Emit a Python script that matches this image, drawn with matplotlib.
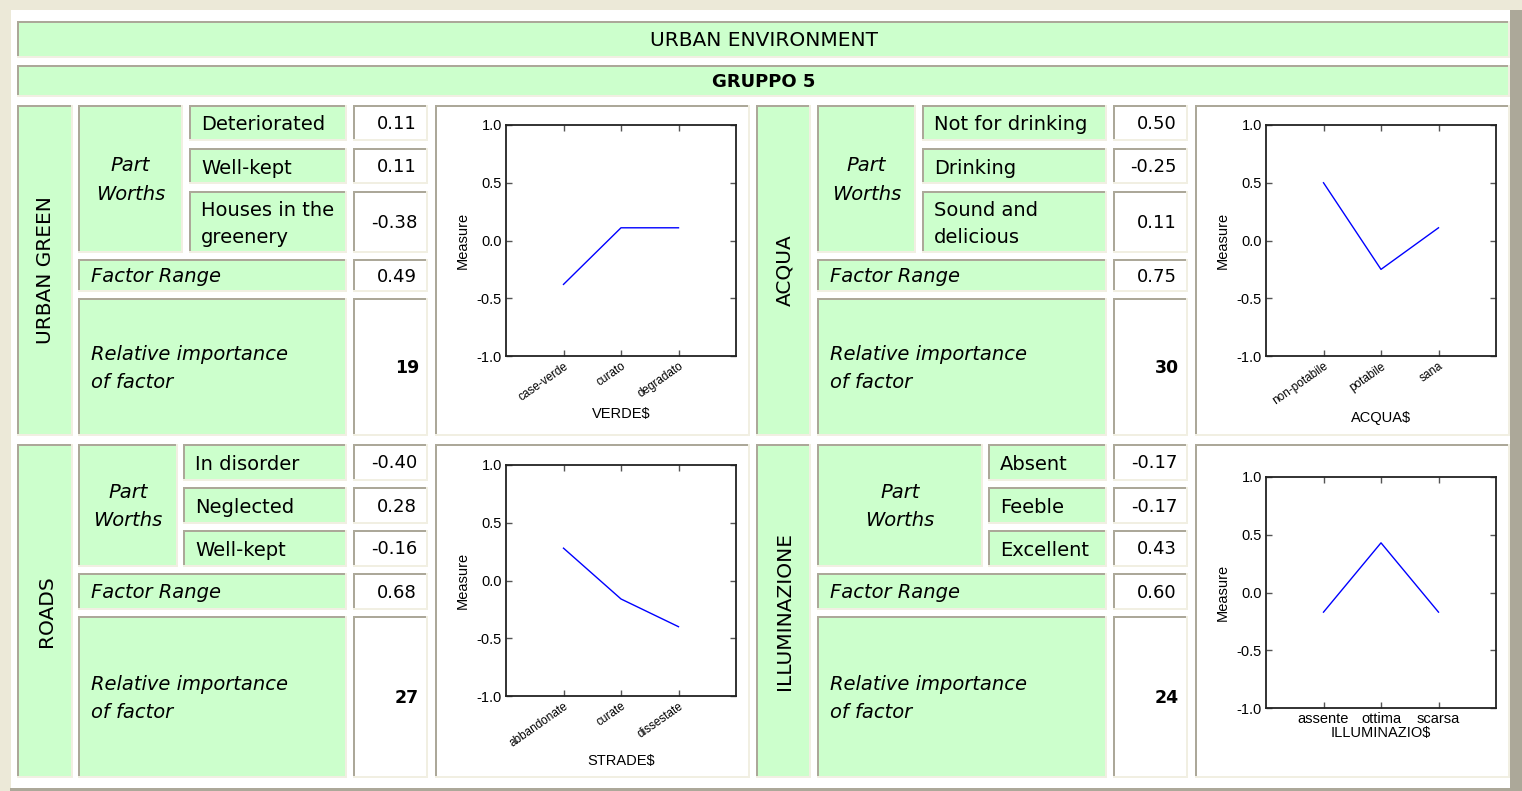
import matplotlib
matplotlib.use("Agg")
import matplotlib.pyplot as plt
from matplotlib.patches import Rectangle

# ---------------- data ----------------
title = "URBAN ENVIRONMENT"
group = "GRUPPO 5"

factors = ["URBAN GREEN", "ACQUA", "ROADS", "ILLUMINAZIONE"]
level_labels = [
    ["Deteriorated", "Well-kept", "Houses in the\ngreenery"],
    ["Not for drinking", "Drinking", "Sound and\ndelicious"],
    ["In disorder", "Neglected", "Well-kept"],
    ["Absent", "Feeble", "Excellent"],
]
part_worths = [
    [0.11, 0.11, -0.38],
    [0.50, -0.25, 0.11],
    [-0.40, 0.28, -0.16],
    [-0.17, -0.17, 0.43],
]
factor_range = [0.49, 0.75, 0.68, 0.60]
rel_importance = [19, 30, 27, 24]

chart_xlabels = ["VERDE$", "ACQUA$", "STRADE$", "ILLUMINAZIO$"]
chart_cats = [
    ["case-verde", "curato", "degradato"],
    ["non-potabile", "potabile", "sana"],
    ["abbandonate", "curate", "dissestate"],
    ["assente", "ottima", "scarsa"],
]
chart_vals = [
    [-0.38, 0.11, 0.11],
    [0.50, -0.25, 0.11],
    [0.28, -0.16, -0.40],
    [-0.17, 0.43, -0.17],
]
yticks = [-1.0, -0.5, 0.0, 0.5, 1.0]

# ---------------- style ----------------
W, H = 1522, 791
GREEN = "#CCFFCC"
DARK = "#ACA899"
LIGHT = "#F1EFE2"
BEIGE = "#ECE9D8"
TFONT = "DejaVu Sans"
CFONT = "Liberation Sans"
FS = 14

fig = plt.figure(figsize=(W / 100, H / 100), dpi=100)
fig.patch.set_facecolor(BEIGE)
bg = fig.add_axes([0, 0, 1, 1])
bg.set_xlim(0, W)
bg.set_ylim(H, 0)
bg.axis("off")

bg.add_patch(Rectangle((11, 10), 1499, 778, fc="white", ec="none"))
bg.add_patch(Rectangle((1510, 10), 12, 781, fc=DARK, ec="none"))
bg.add_patch(Rectangle((10, 788), 1512, 3, fc=DARK, ec="none"))


def cell(x0, y0, x1, y1, fc=GREEN):
    bg.add_patch(Rectangle((x0, y0), x1 - x0, y1 - y0, fc=fc, ec="none"))
    bg.add_patch(Rectangle((x0, y0), x1 - x0, 2, fc=DARK, ec="none"))
    bg.add_patch(Rectangle((x0, y0), 2, y1 - y0, fc=DARK, ec="none"))
    bg.add_patch(Rectangle((x0, y1 - 2), x1 - x0, 2, fc=LIGHT, ec="none"))
    bg.add_patch(Rectangle((x1 - 2, y0), 2, y1 - y0, fc=LIGHT, ec="none"))


def txt(x, y, s, ha="left", **kw):
    kw.setdefault("fontsize", FS)
    kw.setdefault("family", TFONT)
    bg.text(x, y, s, ha=ha, va="center", color="black", **kw)


# header rows
cell(17, 21, 1510, 58)
txt((17 + 1510) / 2, 40, title, ha="center", fontsize=14.5)
cell(17, 65, 1510, 97)
txt((17 + 1510) / 2, 82, group, ha="center", fontsize=13, weight="bold")

blocks = [
    dict(lab=(17, 73), pw=(78, 183), lvl=(189, 347), val=(353, 428), ch=(435, 750),
         rows=[(105, 141), (148, 184), (191, 253)], fr=(259, 292), ri=(298, 436),
         ax=(506, 125, 736, 356), rot=True),
    dict(lab=(756, 811), pw=(817, 916), lvl=(922, 1107), val=(1113, 1188), ch=(1195, 1510),
         rows=[(105, 141), (148, 184), (191, 253)], fr=(259, 292), ri=(298, 436),
         ax=(1266, 125, 1496, 356), rot=True),
    dict(lab=(17, 73), pw=(78, 178), lvl=(183, 347), val=(353, 428), ch=(435, 750),
         rows=[(444, 481), (487, 524), (530, 567)], fr=(573, 610), ri=(616, 778),
         ax=(506, 465, 736, 696), rot=True),
    dict(lab=(756, 811), pw=(817, 983), lvl=(988, 1107), val=(1113, 1188), ch=(1195, 1510),
         rows=[(444, 481), (487, 524), (530, 567)], fr=(573, 610), ri=(616, 778),
         ax=(1266, 477, 1496, 708), rot=False),
]

for i, b in enumerate(blocks):
    top = b["rows"][0][0]
    bot = b["ri"][1]
    cell(b["lab"][0], top, b["lab"][1], bot)
    txt((b["lab"][0] + b["lab"][1]) / 2 + 1, (top + bot) / 2, factors[i], ha="center",
        rotation=90, fontsize=14.5)
    pwb = b["rows"][2][1]
    cell(b["pw"][0], top, b["pw"][1], pwb)
    txt((b["pw"][0] + b["pw"][1]) / 2, (top + pwb) / 2 + 1, "Part\nWorths", ha="center",
        style="italic", linespacing=1.65)
    for j, (y0, y1) in enumerate(b["rows"]):
        cell(b["lvl"][0], y0, b["lvl"][1], y1)
        txt(b["lvl"][0] + 12, (y0 + y1) / 2 + 2, level_labels[i][j], linespacing=1.55)
        cell(b["val"][0], y0, b["val"][1], y1, fc="white")
        txt(b["val"][1] - 11, (y0 + y1) / 2 + 1, f"{part_worths[i][j]:.2f}", ha="right",
            fontsize=13)
    y0, y1 = b["fr"]
    cell(b["pw"][0], y0, b["lvl"][1], y1)
    txt(b["pw"][0] + 13, (y0 + y1) / 2 + 1, "Factor Range", style="italic")
    cell(b["val"][0], y0, b["val"][1], y1, fc="white")
    txt(b["val"][1] - 11, (y0 + y1) / 2 + 1, f"{factor_range[i]:.2f}", ha="right", fontsize=13)
    y0, y1 = b["ri"]
    cell(b["pw"][0], y0, b["lvl"][1], y1)
    txt(b["pw"][0] + 13, (y0 + y1) / 2 + 1, "Relative importance\nof factor", style="italic",
        linespacing=1.6)
    cell(b["val"][0], y0, b["val"][1], y1, fc="white")
    txt(b["val"][1] - 9, (y0 + y1) / 2 + 1, str(rel_importance[i]), ha="right", fontsize=12.5,
        weight="bold")
    cell(b["ch"][0], top, b["ch"][1], bot, fc="white")

    x0, y0, x1, y1 = b["ax"]
    ax = fig.add_axes([x0 / W, 1 - y1 / H, (x1 - x0) / W, (y1 - y0) / H])
    xs = list(range(1, len(chart_cats[i]) + 1))
    ax.plot(xs, chart_vals[i], color="#0000FF", lw=1.0)
    ax.set_xlim(0, 4)
    ax.set_ylim(-1, 1)
    ax.set_xticks(xs)
    ax.set_yticks(yticks)
    ax.set_yticklabels([f"{v:.1f}" for v in yticks], family=CFONT, fontsize=10.5)
    if b["rot"]:
        ax.set_xticklabels(chart_cats[i], rotation=35, ha="right", rotation_mode="anchor",
                           family=CFONT, fontsize=8.5)
        ax.set_xlabel(chart_xlabels[i], family=CFONT, fontsize=10.5, labelpad=3)
    else:
        ax.set_xticklabels(chart_cats[i], family=CFONT, fontsize=10.5)
        ax.set_xlabel(chart_xlabels[i], family=CFONT, fontsize=10.5, labelpad=0)
    ax.set_ylabel("Measure", family=CFONT, fontsize=10.5, labelpad=5)
    ax.tick_params(direction="in", top=True, right=True, length=4, width=1,
                   color="#555555", pad=3)
    for s in ax.spines.values():
        s.set_linewidth(1.3)
        s.set_color("#222222")
    ax.set_facecolor("white")

fig.savefig("out.png", dpi=100, facecolor=fig.get_facecolor())
